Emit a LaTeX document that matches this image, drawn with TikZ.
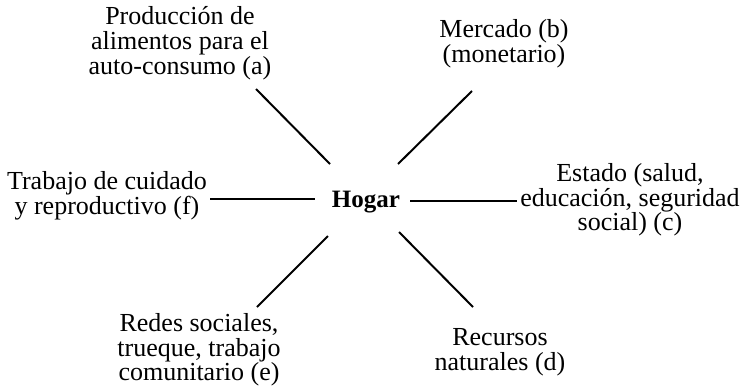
\documentclass[tikz,border=0pt]{standalone}
\usepackage{fontspec}
\setmainfont{Liberation Serif}
\begin{document}
\begin{tikzpicture}[x=1pt,y=-1pt,
  lbl/.style={align=center,inner sep=0pt},
  spoke/.style={line width=2pt}]
\useasboundingbox (0,0) rectangle (747,386);
\node[inner sep=0pt,font=\fontsize{25}{25}\selectfont\bfseries] (hogar) at (366,202) {Hogar};
\node[lbl,font=\fontsize{26}{25}\selectfont] (a) at (180,43) {Producción de\\alimentos para el\\auto-consumo (a)};
\node[lbl,font=\fontsize{26}{21}\selectfont] (b) at (504,43.5) {Mercado (b)\\(monetario)};
\node[lbl,font=\fontsize{26}{23.3}\selectfont] (c) at (630,200) {Estado (salud,\\educación, seguridad\\social) (c)};
\node[lbl,font=\fontsize{26}{24.5}\selectfont] (d) at (500,352) {Recursos\\naturales (d)};
\node[lbl,font=\fontsize{26}{24.5}\selectfont] (e) at (199,350) {Redes sociales,\\trueque, trabajo\\comunitario (e)};
\node[lbl,font=\fontsize{26}{20}\selectfont] (f) at (107,196) {Trabajo de cuidado\\y reproductivo (f)};
\coordinate (a1) at (256,89);  \coordinate (a2) at (330,164);
\coordinate (b1) at (472,91);  \coordinate (b2) at (398,164);
\coordinate (c1) at (410,201); \coordinate (c2) at (517,201);
\coordinate (d1) at (399,232); \coordinate (d2) at (473,307);
\coordinate (e1) at (328,236); \coordinate (e2) at (257,307);
\coordinate (f1) at (210,199); \coordinate (f2) at (315,199);
\draw[spoke] (a1) -- (a2);
\draw[spoke] (b1) -- (b2);
\draw[spoke] (c1) -- (c2);
\draw[spoke] (d1) -- (d2);
\draw[spoke] (e1) -- (e2);
\draw[spoke] (f1) -- (f2);
\end{tikzpicture}
\end{document}
